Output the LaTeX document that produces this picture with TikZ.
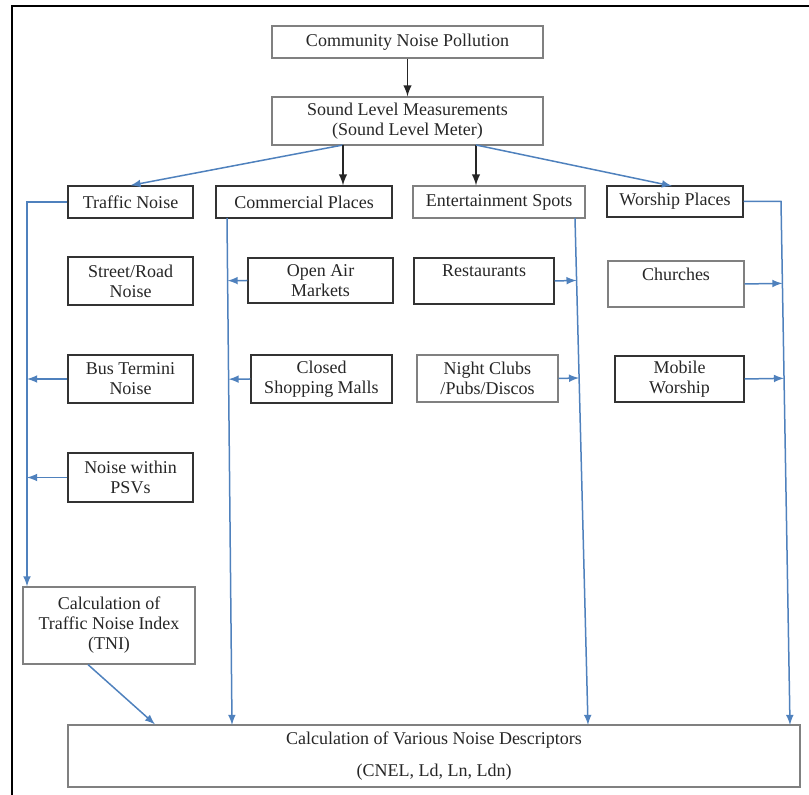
\documentclass[tikz,border=0pt]{standalone}
\usepackage{fontspec}
\setmainfont{Liberation Serif}
\usetikzlibrary{arrows.meta,calc}

\definecolor{lineblue}{RGB}{79,129,189}

\tikzset{
  box/.style={draw=black!80, text=black!85, align=center, inner sep=1pt,
    line width=0.6pt, font=\fontsize{9}{10}\selectfont},
  greybox/.style={box, draw=black!50},
  flow/.style={-{latex}, line width=0.9pt, black!85},
  feed/.style={-{latex}, lineblue, line width=0.75pt},
  feedline/.style={lineblue, line width=0.75pt},
}

\begin{document}
\begin{tikzpicture}[x=0.5pt,y=-0.5pt]
    \useasboundingbox (0,0) rectangle (809,795);

    % frame
    \draw[line width=0.75pt] (12,795) -- (12,6) -- (809,6);

    % top of the chart
    \node[greybox, minimum width=135.5pt, minimum height=16pt] (comm) at (407.5,42) {Community Noise Pollution};
    \node[greybox, minimum width=135.5pt, minimum height=24pt] (slm) at (407.5,121) {Sound Level Measurements\\(Sound Level Meter)};
    \draw[flow] (comm.south) -- (slm.north);

    % sources
    \node[box, minimum width=62.5pt, minimum height=16pt] (traffic) at (130.5,202) {Traffic Noise};
    \node[box, minimum width=88pt, minimum height=16pt] (commercial) at (304,202) {Commercial Places};
    \node[greybox, minimum width=86pt, minimum height=16pt] (entert) at (499,202) {Entertainment Spots};
    \node[box, minimum width=68pt, minimum height=15.5pt] (worship) at (675,201.5) {Worship Places};

    \coordinate (slmL) at (343,145);
    \coordinate (slmR) at (476,145);
    \draw[feed] (slmL) -- (traffic.north);
    \draw[flow] (slmL) -- (slmL |- commercial.north);
    \draw[flow] (slmR) -- (slmR |- entert.north);
    \draw[feed] (slmR) -- (672,186);

    %%%%%%%%%%%%%%%%%%%%%%%%%%%%%%%%%%%%%%%%%%%%%%%%%%%%%%%%%

    % traffic noise
    \node[box, minimum width=62.5pt, minimum height=24pt] (street) at (130.5,281) {Street/Road\\Noise};
    \node[box, minimum width=62.5pt, minimum height=24pt] (bus) at (130.5,379) {Bus Termini\\Noise};
    \node[box, minimum width=62.5pt, minimum height=24.5pt] (psv) at (130.5,477.5) {Noise within\\PSVs};
    \node[greybox, minimum width=86pt, minimum height=38.5pt] (tni) at (109,625.5) {Calculation of\\Traffic Noise Index\\(TNI)};

    \coordinate (tTop) at (27,202);
    \draw[feed] (traffic.west) -- (tTop) -- (tTop |- tni.north);
    \draw[feed] (bus.west) -- (bus.west -| tTop);
    \draw[feed] (psv.west) -- (psv.west -| tTop);

    % commercial places
    \node[box, minimum width=72.5pt, minimum height=22.5pt] (openair) at (320.5,280.5) {Open Air\\Markets};
    \node[box, minimum width=70.5pt, minimum height=24pt] (closed) at (321.5,379) {Closed\\Shopping Malls};

    % entertainment spots
    \node[box, minimum width=70pt, minimum height=23pt] (rest) at (484,281) {Restaurants\\\mbox{}};
    \node[greybox, minimum width=70.5pt, minimum height=23.5pt] (night) at (487.5,378.5) {Night Clubs\\/Pubs/Discos};

    % worship places
    \node[greybox, minimum width=68pt, minimum height=23pt] (churches) at (676,284) {Churches\\\mbox{}};
    \node[box, minimum width=64.5pt, minimum height=23pt] (mobile) at (679.5,379) {Mobile\\Worship};

    %%%%%%%%%%%%%%%%%%%%%%%%%%%%%%%%%%%%%%%%%%%%%%%%%%%%%%%%%

    % descriptors
    \node[greybox, minimum width=366pt, minimum height=31pt] (calc) at (434,756) {Calculation of Various Noise Descriptors\\[6pt](CNEL, Ld, Ln, Ldn)};

    \draw[feed] (tni.south -| 88,0) -- (calc.north -| 155,0);

    \coordinate (cTop) at (227,218);
    \coordinate (cBot) at (232,725);
    \draw[feed] (cTop) -- (cBot);
    \draw[feed] (openair.west) -- ($(cTop)!(openair.west)!(cBot)$);
    \draw[feed] (closed.west) -- ($(cTop)!(closed.west)!(cBot)$);

    \coordinate (eTop) at (575,218);
    \coordinate (eBot) at (588,725);
    \draw[feed] (eTop) -- (eBot);
    \draw[feed] (rest.east) -- ($(eTop)!(rest.east)!(eBot)$);
    \draw[feed] (night.east) -- ($(eTop)!(night.east)!(eBot)$);

    \coordinate (wTop) at (781,201.5);
    \coordinate (wBot) at (790,725);
    \draw[feed] (worship.east) -- (wTop) -- (wBot);
    \draw[feed] (churches.east) -- ($(wTop)!(churches.east)!(wBot)$);
    \draw[feed] (mobile.east) -- ($(wTop)!(mobile.east)!(wBot)$);

\end{tikzpicture}
\end{document}
